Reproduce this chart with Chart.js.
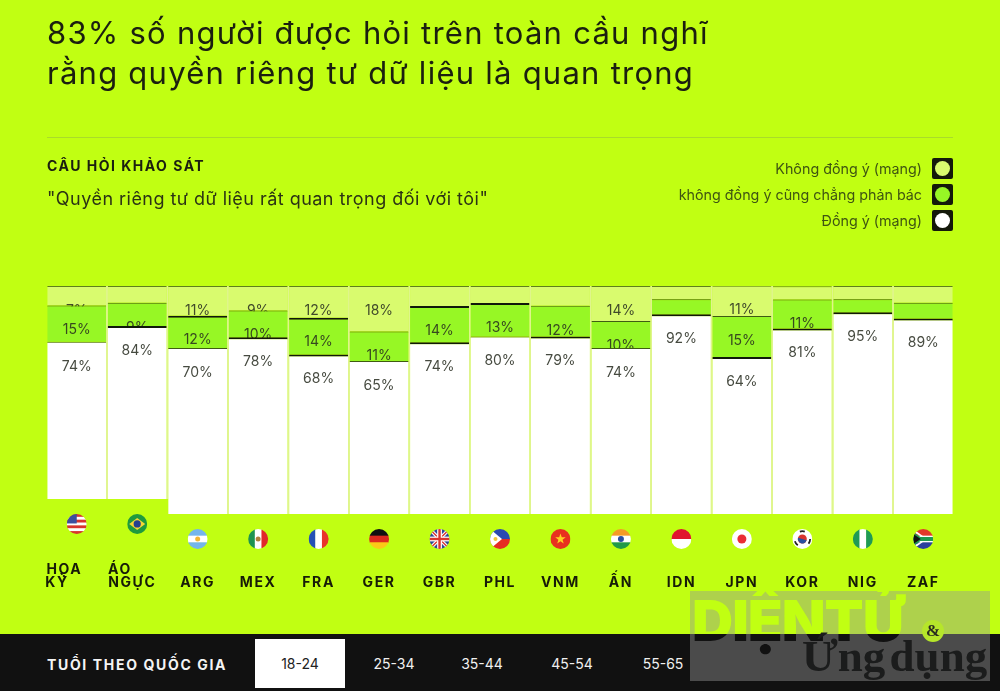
<!DOCTYPE html>
<html lang="vi">
<head>
<meta charset="utf-8">
<style>
  html, body { margin: 0; padding: 0; }
  body { width: 1000px; height: 691px; position: relative; overflow: hidden; background: #c1ff12; font-family: "Inter", sans-serif; color: #1b1f10; }
  div, span { position: absolute; white-space: nowrap; }
  #myChart { position: absolute; left: 0; top: 0; }
  #title { left: 47px; top: 13px; font-size: 31px; line-height: 40px; font-weight: 400; letter-spacing: 1.25px; }
  #rule { left: 47px; top: 137px; width: 906px; height: 1px; background: #a9dc2a; }
  #ask { left: 47px; top: 157px; font-size: 14px; font-weight: 700; letter-spacing: 1.5px; line-height: 17px; }
  #quote { left: 47px; top: 187px; font-size: 18px; line-height: 24px; letter-spacing: 0.47px; color: #2b3315; }
  .lg { right: 78px; font-size: 14.3px; line-height: 18px; color: #3f5512; }
  .sw { left: 932px; width: 21px; height: 21px; background: #14190a; border-radius: 2px; }
  .sw i { position: absolute; left: 3px; top: 3px; width: 15px; height: 15px; border-radius: 50%; }
  #bar { left: 0; top: 634px; width: 1000px; height: 57px; background: #111; }
  #barLabel { left: 47px; top: 656px; font-size: 14px; line-height: 17px; font-weight: 700; letter-spacing: 1.65px; color: #f4f4f4; }
  #tabOn { left: 255px; top: 639px; width: 90px; height: 49px; background: #fff; }
  .tab { top: 655px; width: 80px; text-align: center; font-size: 14px; line-height: 17px; color: #f0f0f0; }
  #wm { left: 690px; top: 591px; width: 300px; height: 90px; background: rgba(150,150,150,0.44); overflow: hidden; }
  #wmA { left: 2px; top: 0; width: 298px; height: 90px; font-size: 57px; line-height: 60px; font-weight: 900; letter-spacing: -1px;
         background: linear-gradient(#c1ff12 0 43px, #111 43px); -webkit-background-clip: text; background-clip: text; color: transparent; }
  #wmC { left: 232px; top: 29px; width: 22px; height: 22px; border-radius: 50%; background: #b6e62a; text-align: center; font: 700 17px/22px "Liberation Serif", serif; color: #2a2c20; }
  #wmB { left: 112px; top: 38px; font-family: "Liberation Serif", serif; font-size: 45px; line-height: 54px; font-weight: 700; color: #1b1c1c; word-spacing: -7px; }
</style>
</head>
<body>
<canvas id="myChart" width="1000" height="691"></canvas>

<div id="title">83% số người được hỏi trên toàn cầu nghĩ<br>rằng quyền riêng tư dữ liệu là quan trọng</div>
<div id="rule"></div>
<div id="ask">CÂU HỎI KHẢO SÁT</div>
<div id="quote">"Quyền riêng tư dữ liệu rất quan trọng đối với tôi"</div>

<div class="lg" style="top:160px">Không đồng ý (mạng)</div>
<div class="sw" style="top:158px"><i style="background:#d9fb6e"></i></div>
<div class="lg" style="top:186px">không đồng ý cũng chẳng phản bác</div>
<div class="sw" style="top:184px"><i style="background:#97f725"></i></div>
<div class="lg" style="top:212px">Đồng ý (mạng)</div>
<div class="sw" style="top:210px"><i style="background:#fff"></i></div>

<div id="bar"></div>
<div id="barLabel">TUỔI THEO QUỐC GIA</div>
<div id="tabOn"></div>
<div class="tab" style="left:260px;color:#222">18-24</div>
<div class="tab" style="left:354px">25-34</div>
<div class="tab" style="left:442px">35-44</div>
<div class="tab" style="left:532px">45-54</div>
<div class="tab" style="left:623px">55-65</div>

<div id="wm">
  <span id="wmA">DIỆNTỬ</span>
  <span id="wmC">&amp;</span>
  <span id="wmB">Ứng dụng</span>
</div>

<script src="https://cdn.jsdelivr.net/npm/chart.js@4"></script>
<script>
var categories = [["HỌA","KỲ"],["ÁO","NGỰC"],"ARG","MEX","FRA","GER","GBR","PHL","VNM","ẤN","IDN","JPN","KOR","NIG","ZAF"];
var flags = ["usa","bra","arg","mex","fra","ger","gbr","phl","vnm","ind","idn","jpn","kor","nig","zaf"];

// heights as drawn in the picture, in % of the full column
var raised   = [6.6,6.6,0,0,0,0,0,0,0,0,0,0,0,0,0];
var agree    = [68.9,75.9,72.8,77.5,70.0,67.1,75.3,77.9,77.9,72.8,87.6,68.9,81.4,88.5,85.7];
var neutral  = [15.9,10.1,14.2,11.7,16.1,12.9,15.9,14.6,13.4,11.8,6.6,17.9,12.7,5.7,7.0];
var disagree = [8.6,7.4,13.0,10.8,13.9,20.0,8.8,7.5,8.7,15.4,5.8,13.3,5.8,5.8,7.3];

// printed labels (they do not follow the heights), null = hidden behind the next segment
var agreeLabels    = [74,84,70,78,68,65,74,80,79,74,92,64,81,95,89];
var neutralLabels  = [15,9,12,10,14,11,14,13,12,10,null,15,11,null,null];
var disagreeLabels = [7,null,11,9,12,18,null,null,null,14,null,11,null,null,null];

// columns where the line on top of the segment is heavier
var agreeHeavy   = ["ÁO","MEX","FRA","GBR","VNM","IDN","JPN","KOR","NIG","ZAF"];
var neutralHeavy = ["ARG","FRA","GBR","PHL"];

var LIGHT = "#d9fb6e", MID = "#97f725", EDGE = "#3f5c12", EDGE_TOP = "#5f7f1c", HEAVY = "#10180a", SEP = "#dff58c";

function stripesH(c, r, cols) {
    for (var i = 0; i < cols.length; i++) {
	c.fillStyle = cols[i];
	c.fillRect(-r, -r + i * 2 * r / cols.length, 2 * r, 2 * r / cols.length + 0.5);
    }
}
function stripesV(c, r, cols) {
    for (var i = 0; i < cols.length; i++) {
	c.fillStyle = cols[i];
	c.fillRect(-r + i * 2 * r / cols.length, -r, 2 * r / cols.length + 0.5, 2 * r);
    }
}
function dot(c, x, y, r, col) {
    c.fillStyle = col;
    c.beginPath();
    c.arc(x, y, r, 0, Math.PI * 2);
    c.fill();
}
function poly(c, pts, col) {
    c.fillStyle = col;
    c.beginPath();
    c.moveTo(pts[0], pts[1]);
    for (var i = 2; i < pts.length; i += 2) c.lineTo(pts[i], pts[i + 1]);
    c.closePath();
    c.fill();
}
function star(c, r, col) {
    var pts = [];
    for (var i = 0; i < 10; i++) {
	var a = -Math.PI / 2 + i * Math.PI / 5, q = i % 2 ? r * 0.4 : r;
	pts.push(q * Math.cos(a), q * Math.sin(a));
    }
    poly(c, pts, col);
}
function drawFlag(c, name, r) {
    if (name == "usa") {
	stripesH(c, r, ["#d8342f","#fff","#d8342f","#fff","#d8342f","#fff","#d8342f"]);
	c.fillStyle = "#3c4f9e"; c.fillRect(-r, -r, r, r * 0.95);
    } else if (name == "bra") {
	stripesH(c, r, ["#1f9a3e"]);
	poly(c, [-r * 0.8, 0, 0, -r * 0.6, r * 0.8, 0, 0, r * 0.6], "#f7d633");
	dot(c, 0, 0, r * 0.36, "#26408f");
    } else if (name == "arg") {
	stripesH(c, r, ["#74b5ea","#fff","#74b5ea"]);
	dot(c, 0, 0, r * 0.25, "#f2b632");
    } else if (name == "mex") {
	stripesV(c, r, ["#1f9350","#fff","#e0292b"]);
	dot(c, 0, 0, r * 0.25, "#b0803a");
    } else if (name == "fra") {
	stripesV(c, r, ["#2450b5","#fff","#e8342b"]);
    } else if (name == "ger") {
	stripesH(c, r, ["#111","#dc2a1e","#fcc917"]);
    } else if (name == "gbr") {
	stripesH(c, r, ["#2d4a94"]);
	c.lineWidth = r * 0.35; c.strokeStyle = "#fff";
	c.beginPath(); c.moveTo(-r, -r); c.lineTo(r, r); c.moveTo(r, -r); c.lineTo(-r, r); c.stroke();
	c.lineWidth = r * 0.14; c.strokeStyle = "#d8342f"; c.stroke();
	c.fillStyle = "#fff"; c.fillRect(-r, -r * 0.24, 2 * r, r * 0.48); c.fillRect(-r * 0.24, -r, r * 0.48, 2 * r);
	c.fillStyle = "#d8342f"; c.fillRect(-r, -r * 0.12, 2 * r, r * 0.24); c.fillRect(-r * 0.12, -r, r * 0.24, 2 * r);
    } else if (name == "phl") {
	stripesH(c, r, ["#2c49b0","#e62b22"]);
	poly(c, [-r, -r, r * 0.2, 0, -r, r], "#fff");
	dot(c, -r * 0.45, 0, r * 0.2, "#f4c63a");
    } else if (name == "vnm") {
	stripesH(c, r, ["#e8311f"]);
	star(c, r * 0.55, "#fcd21f");
    } else if (name == "ind") {
	stripesH(c, r, ["#f59b26","#fff","#219a48"]);
	dot(c, 0, 0, r * 0.3, "#2a4fa0");
    } else if (name == "idn") {
	stripesH(c, r, ["#e0152e","#fff"]);
    } else if (name == "jpn") {
	stripesH(c, r, ["#fff"]);
	dot(c, 0, 0, r * 0.45, "#ea2e36");
    } else if (name == "kor") {
	stripesH(c, r, ["#fff"]);
	dot(c, 0, 0, r * 0.45, "#d8342f");
	c.fillStyle = "#2a4fa0"; c.beginPath(); c.arc(0, 0, r * 0.45, 0.3, 0.3 + Math.PI); c.fill();
	c.strokeStyle = "#222"; c.lineWidth = r * 0.18; c.setLineDash([r * 0.5, r * 1.2]);
	c.beginPath(); c.arc(0, 0, r * 0.78, 0, Math.PI * 2); c.stroke(); c.setLineDash([]);
    } else if (name == "nig") {
	stripesV(c, r, ["#1f9a55","#fff","#1f9a55"]);
    } else if (name == "zaf") {
	stripesH(c, r, ["#e2392a","#fff","#2a3f9e"]);
	c.fillStyle = "#1d9a50"; c.fillRect(-r, -r * 0.2, 2 * r, r * 0.4);
	poly(c, [-r, -r, r * 0.1, -r * 0.2, -r * 0.1, -r * 0.2, -r, -r * 0.7], "#fff");
	poly(c, [-r, r, r * 0.1, r * 0.2, -r * 0.1, r * 0.2, -r, r * 0.7], "#fff");
	poly(c, [-r, -r * 0.7, 0, 0, -r, r * 0.7], "#1d9a50");
	poly(c, [-r, -r * 0.5, -r * 0.25, 0, -r, r * 0.5], "#111");
    }
}

// thin pale lines between the columns, and the flags under them
var columnsPlugin = {
    id: "columns",
    beforeDraw: function(chart) {
	chart.ctx.letterSpacing = "1.6px";
    },
    beforeDatasetsDraw: function(chart) {
	var c = chart.ctx, x = chart.scales.x, y = chart.scales.y;
	c.save();
	c.fillStyle = SEP;
	for (var i = 1; i < categories.length; i++) {
	    var px = (x.getPixelForValue(i - 1) + x.getPixelForValue(i)) / 2;
	    var low = y.getPixelForValue(Math.max(raised[i - 1], raised[i]));
	    c.fillRect(px - 1, y.getPixelForValue(100), 2, low - y.getPixelForValue(100));
	}
	c.restore();
    },
    afterDatasetsDraw: function(chart) {
	var c = chart.ctx, x = chart.scales.x, y = chart.scales.y;
	for (var i = 0; i < flags.length; i++) {
	    c.save();
	    c.translate(x.getPixelForValue(i), y.getPixelForValue(raised[i]) + 25);
	    c.beginPath();
	    c.arc(0, 0, 10, 0, Math.PI * 2);
	    c.clip();
	    drawFlag(c, flags[i], 10);
	    c.restore();
	}
    },
    // label sits a fixed way under the top of its segment, the next segment paints over it
    afterDatasetDraw: function(chart, args) {
	var labels = chart.data.datasets[args.index].printed;
	if (!labels) return;
	var c = chart.ctx;
	c.save();
	c.letterSpacing = "0px";
	c.font = "14px Inter";
	c.textAlign = "center";
	c.textBaseline = "middle";
	c.fillStyle = "rgba(38,42,30,0.85)";
	args.meta.data.forEach(function(bar, i) {
	    if (labels[i] == null) return;
	    c.fillText(labels[i] + "%", bar.x, bar.y + 24.5);
	});
	c.restore();
    }
};

function catName(i) {
    return Array.isArray(categories[i]) ? categories[i][0] : categories[i];
}
function seriesSet(label, data, color, printed, heavy, normal) {
    return { label: label, data: data, backgroundColor: color, printed: printed,
	     borderColor: function(ctx) { return heavy.indexOf(catName(ctx.dataIndex)) >= 0 ? HEAVY : normal; },
	     borderWidth: function(ctx) { return { top: heavy.indexOf(catName(ctx.dataIndex)) >= 0 ? 2 : 1 }; },
	     borderSkipped: false, barPercentage: 0.975, categoryPercentage: 1 };
}

var ctx = document.getElementById("myChart").getContext("2d");
var myChart = new Chart(ctx, {
    type: "bar",
    data: {
	labels: categories,
	// chart.js paints the last dataset first, so lower segments cover the labels above them
	datasets: [
	    { label: "raised", data: raised, backgroundColor: "transparent", barPercentage: 0.975, categoryPercentage: 1 },
	    seriesSet("Đồng ý (mạng)", agree, "#ffffff", agreeLabels, agreeHeavy, EDGE),
	    seriesSet("không đồng ý cũng chẳng phản bác", neutral, MID, neutralLabels, neutralHeavy, EDGE),
	    seriesSet("Không đồng ý (mạng)", disagree, LIGHT, disagreeLabels, [], EDGE_TOP)
	]
    },
    plugins: [columnsPlugin],
    options: {
	responsive: false,
	animation: false,
	layout: { padding: { left: 46.5, right: 46.5, top: 286, bottom: 100 } },
	plugins: { legend: { display: false }, tooltip: { enabled: false } },
	scales: {
	    x: {
		stacked: true,
		grid: { display: false },
		border: { display: false },
		afterFit: function(scale) { scale.height = 77; },
		ticks: {
		    autoSkip: false, maxRotation: 0, minRotation: 0, padding: 41,
		    color: "#171c08",
		    font: { family: "Inter", size: 14, weight: "700", lineHeight: 0.93 },
		    callback: function(v, i) {
			var cat = categories[i];
			if (!Array.isArray(cat)) return ["", cat];
			// two-line names start at the column's left edge, nbsp pushes them there
			var pad = i == 0 ? [5, 8] : [7, 2];
			return [cat[0] + "\u00a0".repeat(pad[0]), cat[1] + "\u00a0".repeat(pad[1])];
		    }
		}
	    },
	    y: { stacked: true, display: false, min: 0, max: 100 }
	}
    }
});
</script>
</body>
</html>
